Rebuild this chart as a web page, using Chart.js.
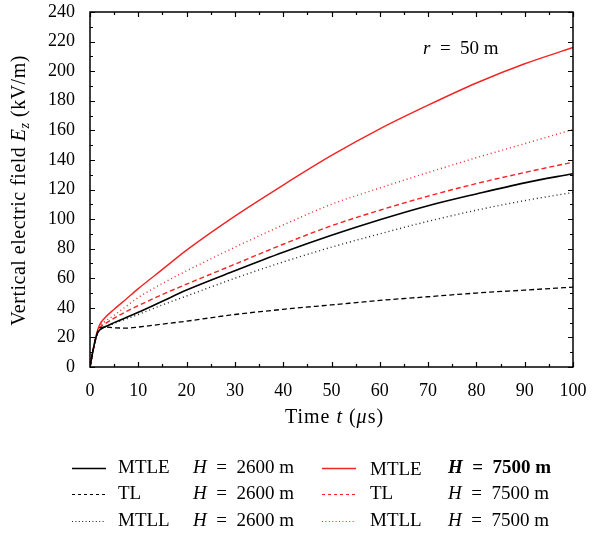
<!DOCTYPE html>
<html>
<head>
<meta charset="utf-8">
<script src="https://cdn.jsdelivr.net/npm/chart.js@4.4.1/dist/chart.umd.min.js"></script>
<style>
  html, body { margin: 0; padding: 0; background: #fff; }
  canvas { display: block; }
</style>
</head>
<body>
<canvas id="chart" width="592" height="537"></canvas>
<script>
// time axis (µs) and field values (kV/m), r = 50 m
const timeUs = [0, 0.5, 1, 1.5, 2, 3, 5, 7.5, 10, 15, 20, 30, 40, 50, 60, 70, 80, 90, 100];

const mtle2600 = [0, 9, 17, 22.5, 25, 27, 30, 33.5, 37, 44.5, 52, 65, 77.5, 89, 99.5, 109, 117, 124.5, 130.7];
const tl2600   = [0, 9, 17, 23, 26.5, 27, 26.5, 26.3, 27, 29, 31, 35.5, 39, 42, 45, 47.5, 50, 52, 54];
const mtll2600 = [0, 9, 17, 22.5, 25, 26.8, 29.5, 32.5, 35.5, 42, 48, 60, 71, 81, 90, 98.5, 106, 112.5, 118];

const mtle7500 = [0, 9, 17, 24, 28.5, 33, 39, 46, 53, 66, 79, 102, 123, 143, 161, 177, 192, 205, 216];
const tl7500   = [0, 9, 17, 23, 26.5, 29, 33, 37.5, 41.5, 49, 56, 69.5, 83, 95.5, 106, 115.5, 124, 131.5, 138.5];
const mtll7500 = [0, 9, 17, 23.5, 27.5, 30.5, 35, 41, 47, 56.5, 65, 81, 96, 110, 121, 131.5, 141.5, 151, 160.5];

const xTicks = [0, 10, 20, 30, 40, 50, 60, 70, 80, 90, 100];
const yTicks = [0, 20, 40, 60, 80, 100, 120, 140, 160, 180, 200, 220, 240];

const SERIF = '"Liberation Serif", "Times New Roman", serif';
const RED = '#f22424';
const EQ = '\u2002=\u2002';

const pts = vals => vals.map((v, i) => ({ x: timeUs[i], y: v }));

function series(model, h, vals, color, dash, width, bold) {
  return {
    label: model + ' H = ' + h + ' m',
    model: model, height: h, boldH: !!bold,
    data: pts(vals),
    borderColor: color,
    borderWidth: width,
    borderDash: dash,
    pointRadius: 0,
    fill: false,
    cubicInterpolationMode: 'monotone'
  };
}

// draws runs of plain / italic / subscript text one after another
function fontOf(p, size) {
  const s = p.sub ? Math.round(size * 0.7) : size;
  return (p.i ? 'italic ' : '') + (p.b ? 'bold ' : '') + s + 'px ' + SERIF;
}
function richWidth(ctx, parts, size, spacing) {
  ctx.letterSpacing = (spacing || 0) + 'px';
  let w = 0;
  parts.forEach(p => {
    ctx.font = fontOf(p, size);
    w += ctx.measureText(p.t).width;
  });
  return w;
}
function drawRich(ctx, parts, x, y, size, spacing) {
  ctx.letterSpacing = (spacing || 0) + 'px';
  ctx.textBaseline = 'alphabetic';
  ctx.textAlign = 'left';
  parts.forEach(p => {
    ctx.font = fontOf(p, size);
    ctx.fillText(p.t, x, p.sub ? y + size * 0.22 : y);
    x += ctx.measureText(p.t).width;
  });
  ctx.letterSpacing = '0px';
}

const framePlugin = {
  id: 'frameTicks',
  afterDraw(chart) {
    const { ctx, chartArea: a, scales } = chart;
    const xs = scales.x, ys = scales.y;
    ctx.save();
    ctx.strokeStyle = '#000';
    ctx.lineWidth = 1.5;
    ctx.strokeRect(a.left, a.top, a.right - a.left, a.bottom - a.top);
    ctx.lineWidth = 1.2;
    ctx.beginPath();
    for (let v = 0; v <= 100; v += 5) {
      const px = Math.round(xs.getPixelForValue(v)) + 0.5;
      const len = v % 10 === 0 ? 5 : 3;
      ctx.moveTo(px, a.bottom); ctx.lineTo(px, a.bottom - len);
      ctx.moveTo(px, a.top); ctx.lineTo(px, a.top + len);
    }
    for (let v = 0; v <= 240; v += 10) {
      const py = Math.round(ys.getPixelForValue(v)) + 0.5;
      const len = v % 20 === 0 ? 5 : 3;
      ctx.moveTo(a.left, py); ctx.lineTo(a.left + len, py);
      ctx.moveTo(a.right, py); ctx.lineTo(a.right - len, py);
    }
    ctx.stroke();

    ctx.fillStyle = '#000';
    // axis titles
    const xt = [{ t: 'Time ' }, { t: 't', i: true }, { t: ' (' }, { t: 'μ', i: true }, { t: 's)' }];
    const xw = richWidth(ctx, xt, 20, 1);
    drawRich(ctx, xt, (a.left + a.right) / 2 - xw / 2 + 3, 423, 20, 1);

    const yt = [{ t: 'Vertical electric field ' }, { t: 'E', i: true }, { t: 'z', i: true, sub: true }, { t: ' (kV/m)' }];
    const yw = richWidth(ctx, yt, 20, 0.5);
    ctx.save();
    ctx.translate(25, (a.top + a.bottom) / 2 + 1);
    ctx.rotate(-Math.PI / 2);
    drawRich(ctx, yt, -yw / 2, 0, 20, 0.5);
    ctx.restore();

    // distance note
    drawRich(ctx, [{ t: 'r', i: true }, { t: EQ + '50 m' }], a.left + 333, a.top + 42, 19);
    ctx.restore();
  }
};

// two-column legend under the plot, drawn from the dataset styles
const legendPlugin = {
  id: 'fieldLegend',
  afterDraw(chart) {
    const ctx = chart.ctx;
    const cols = [{ line: 72, name: 118, h: 193 }, { line: 322, name: 370, h: 448 }];
    const rows = [468, 494, 521];
    ctx.save();
    chart.data.datasets.forEach((ds, i) => {
      const c = cols[Math.floor(i / 3)], y = rows[i % 3];
      ctx.strokeStyle = ds.borderColor;
      ctx.lineWidth = ds.borderDash.length ? 1.1 : 1.4;
      ctx.setLineDash(ds.borderDash.length ? (ds.borderDash[0] > 2 ? [3, 3] : [1, 2.4]) : []);
      ctx.beginPath();
      ctx.moveTo(c.line, y + 0.5);
      ctx.lineTo(c.line + 34, y + 0.5);
      ctx.stroke();
      ctx.setLineDash([]);
      ctx.fillStyle = '#000';
      const base = y + 5 + (ds.boldH ? 2 : 0);
      drawRich(ctx, [{ t: ds.model }], c.name, base, 19);
      drawRich(ctx, [{ t: 'H', i: true, b: ds.boldH }, { t: EQ + ds.height + ' m', b: ds.boldH }], c.h, y + 5, 19);
    });
    ctx.restore();
  }
};

new Chart(document.getElementById('chart'), {
  type: 'line',
  data: {
    datasets: [
      series('MTLE', 2600, mtle2600, '#000', [], 1.6),
      series('TL', 2600, tl2600, '#000', [5, 3], 1.3),
      series('MTLL', 2600, mtll2600, '#222', [1, 3], 1.4),
      series('MTLE', 7500, mtle7500, RED, [], 1.4, true),
      series('TL', 7500, tl7500, RED, [5, 3], 1.4),
      series('MTLL', 7500, mtll7500, RED, [1, 3], 1.4)
    ]
  },
  options: {
    responsive: false,
    animation: false,
    devicePixelRatio: 1,
    layout: { padding: { left: 0, top: 12, right: 19, bottom: 110 } },
    plugins: {
      legend: { display: false },
      tooltip: { enabled: false },
      title: { display: false }
    },
    scales: {
      x: {
        type: 'linear', min: 0, max: 100,
        afterFit: s => { s.height = 60; s.paddingLeft = 0; s.paddingRight = 0; },
        afterBuildTicks: s => { s.ticks = xTicks.map(v => ({ value: v })); },
        grid: { display: false, drawTicks: false },
        border: { display: false },
        ticks: { color: '#000', padding: 13, maxRotation: 0, font: { family: SERIF, size: 18 } }
      },
      y: {
        type: 'linear', min: 0, max: 240,
        afterFit: s => { s.width = 90; s.paddingTop = 0; s.paddingBottom = 0; },
        afterBuildTicks: s => { s.ticks = yTicks.map(v => ({ value: v })); },
        grid: { display: false, drawTicks: false },
        border: { display: false },
        ticks: { color: '#000', padding: 15, font: { family: SERIF, size: 18 } }
      }
    }
  },
  plugins: [framePlugin, legendPlugin]
});
</script>
</body>
</html>
